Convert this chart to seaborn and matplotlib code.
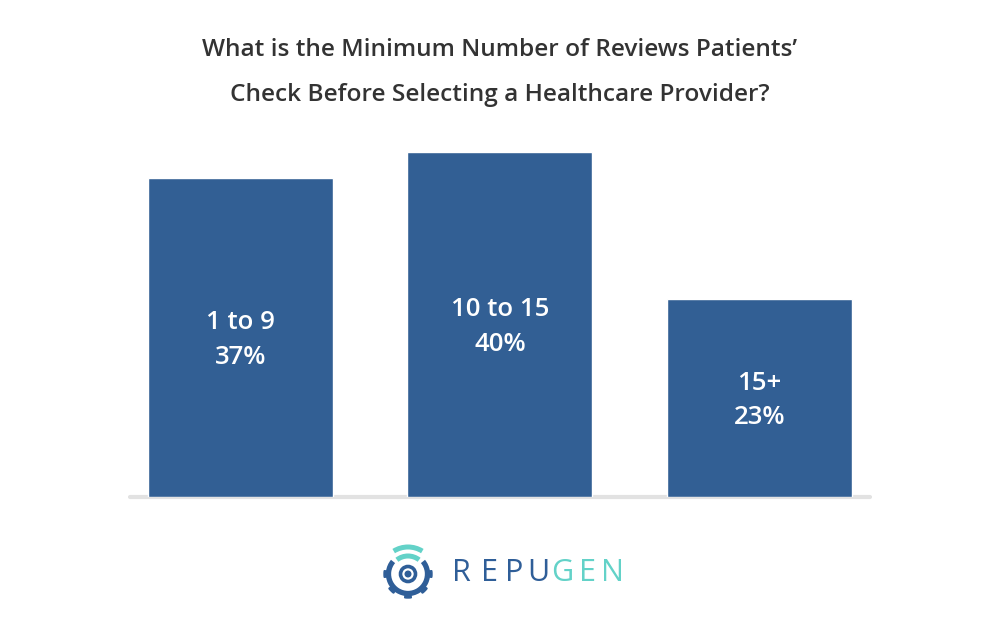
import matplotlib
matplotlib.use("Agg")
import matplotlib.pyplot as plt
import seaborn as sns
import pandas as pd
from matplotlib.patches import Arc, Circle, Wedge

# chart data
categories = ["1 to 9", "10 to 15", "15+"]
shares = [37, 40, 23]

title_lines = ["What is the Minimum Number of Reviews Patients\u2019",
               "Check Before Selecting a Healthcare Provider?"]

BAR_BLUE = "#325f94"
LOGO_BLUE = "#2f5e98"
LOGO_TEAL = "#63d2c8"

sns.set_theme(style="white")
plt.rcParams["font.family"] = ["Open Sans", "DejaVu Sans"]

df = pd.DataFrame({"range": categories, "share": shares})

fig = plt.figure(figsize=(10, 6.38), dpi=100)
ax = fig.add_axes([0.13, 0.221, 0.74, 0.5408])

sns.barplot(data=df, x="range", y="share", color=BAR_BLUE, saturation=1,
            width=0.713, ax=ax)
ax.set_xlim(-0.426, 2.426)
ax.set_ylim(0, 40)
ax.axis("off")
ax.axhline(0, color="#e2e2e2", lw=3, clip_on=False, zorder=0)

# labels in the middle of each bar
for i, (cat, val) in enumerate(zip(categories, shares)):
    ax.text(i, val / 2 - 0.3, f"{cat}\n{val}%", ha="center", va="center",
            color="white", fontsize=18.5, fontweight="semibold",
            linespacing=1.5)

# title
fig.text(0.5, 1 - 50 / 638, title_lines[0], ha="center", va="center",
         fontsize=17.6, fontweight="semibold", color="#333333")
fig.text(0.5, 1 - 95 / 638, title_lines[1], ha="center", va="center",
         fontsize=17.6, fontweight="semibold", color="#333333")

# logo drawn in pixel coordinates (y measured from bottom)
lg = fig.add_axes([0, 0, 1, 1], zorder=-1)
lg.set_xlim(0, 1000)
lg.set_ylim(0, 638)
lg.axis("off")

cx, cy = 408, 638 - 574
# gear ring, open at top
lg.add_patch(Arc((cx, cy), 39, 39, theta1=140, theta2=400, lw=3.8,
                 color=LOGO_BLUE))
for ang in [180, 225, 270, 315, 360]:
    lg.add_patch(Wedge((cx, cy), 24, ang - 8, ang + 8, width=5,
                       color=LOGO_BLUE))
# inner rings
lg.add_patch(Circle((cx, cy), 7.5, fill=False, lw=2.6, color=LOGO_BLUE))
lg.add_patch(Circle((cx, cy), 2.8, color=LOGO_BLUE))
# wifi arcs
lg.add_patch(Arc((cx, cy), 36, 36, theta1=52, theta2=128, lw=3.6,
                 color=LOGO_TEAL))
lg.add_patch(Arc((cx, cy), 54, 54, theta1=58, theta2=122, lw=3.6,
                 color=LOGO_TEAL))

letters = list("REPUGEN")
letter_x = [461, 489, 514, 538, 562, 587, 612]
for k, (ch, lx) in enumerate(zip(letters, letter_x)):
    lg.text(lx, 638 - 573, ch, ha="center", va="center", fontsize=22,
            fontweight="normal", color=LOGO_BLUE if k < 4 else LOGO_TEAL)

fig.savefig("out.png", dpi=100, facecolor="white")
